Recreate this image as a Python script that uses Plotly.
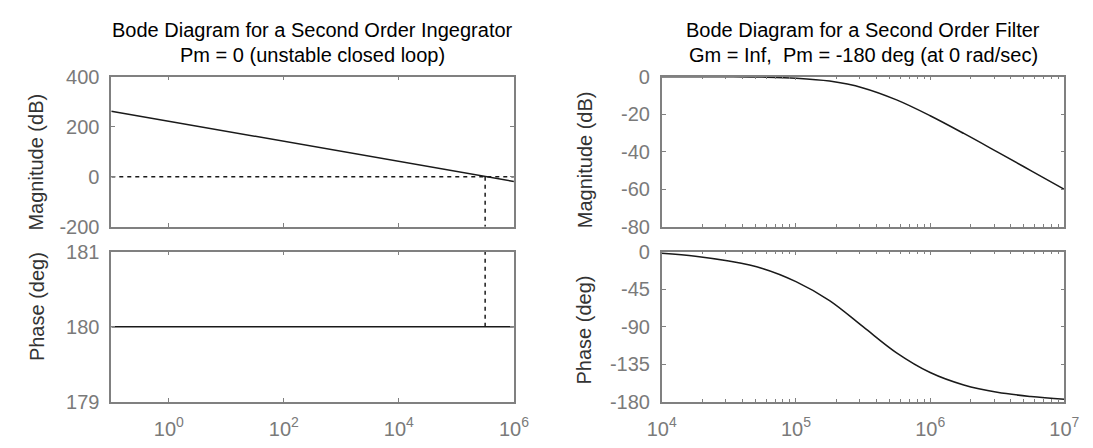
import plotly.graph_objects as go

# ---- Second order integrator (open loop) ----
int_freq = [1e-1, 1e0, 1e1, 1e2, 1e3, 1e4, 1e5, 1e6]           # rad/sec
int_mag = [262, 222, 181, 141, 100, 60, 20, -19]                 # dB
int_phase = [180, 180, 180, 180, 180, 180, 180, 180]             # deg
crossover_freq = 3.16e5                                          # rad/sec, 0 dB crossing

# ---- Second order filter ----
filt_freq = [1.0e4, 1.78e4, 3.16e4, 5.62e4, 1.0e5, 1.78e5, 3.16e5,
             5.62e5, 1.0e6, 1.78e6, 3.16e6, 5.62e6, 1.0e7]
filt_mag = [-0.01, -0.03, -0.09, -0.27, -0.83, -2.39, -6.02,
            -12.39, -20.83, -30.27, -40.09, -50.03, -60.0]
filt_phase = [-2.0, -5.5, -11.4, -20.2, -36.0, -58.7, -90.0,
              -121.3, -144.9, -159.8, -168.6, -173.6, -176.8]

# ---- tick labels ----
int_xticks = [1e0, 1e2, 1e4, 1e6]
int_xticktext = ["10<sup>0</sup>", "10<sup>2</sup>", "10<sup>4</sup>", "10<sup>6</sup>"]
filt_xticks = [1e4, 1e5, 1e6, 1e7]
filt_xticktext = ["10<sup>4</sup>", "10<sup>5</sup>", "10<sup>6</sup>", "10<sup>7</sup>"]
int_mag_ticks = [-200, 0, 200, 400]
int_phase_ticks = [179, 180, 181]
filt_mag_ticks = [-80, -60, -40, -20, 0]
filt_phase_ticks = [-180, -135, -90, -45, 0]
filt_minor = [m * 10 ** e for e in (4, 5, 6) for m in range(2, 10)]

W, H = 1093, 448
FONT = "Liberation Sans, Arial, sans-serif"
GRAY = "#808080"
TICKFONT = dict(family=FONT, size=20, color="#7a7a7a")
LINE = dict(color="#1a1a1a", width=1.5)
DASH = dict(color="#1a1a1a", width=1.5, dash="4px,4px")

# axes boxes in pixels (left, right) and (top, bottom)
LX = (99, 513)
RX = (665, 1079)
TOP_Y = (69, 227)
BOT_Y = (253, 411)


def xdom(px):
    return [px[0] / W, px[1] / W]


def ydom(py):
    return [1 - py[1] / H, 1 - py[0] / H]


def xaxis_style(dom, rng, tickvals, ticktext, labels, anchor, minor=None):
    d = dict(domain=xdom(dom), type="log", range=rng, anchor=anchor,
             showline=True, linecolor=GRAY, linewidth=1.6, mirror="ticks",
             ticks="inside", ticklen=4, tickcolor=GRAY, tickwidth=1.3,
             tickvals=tickvals, ticktext=ticktext, showticklabels=labels,
             tickfont=TICKFONT, ticklabelstandoff=8,
             showgrid=False, zeroline=False, fixedrange=True)
    if minor is not None:
        d["minor"] = dict(tickvals=minor, ticks="inside", ticklen=3,
                          tickcolor=GRAY, tickwidth=1.3, showgrid=False)
    return d


def yaxis_style(dom, rng, tickvals, anchor):
    return dict(domain=ydom(dom), range=rng, anchor=anchor,
                showline=True, linecolor=GRAY, linewidth=1.6, mirror="ticks",
                ticks="inside", ticklen=4, tickcolor=GRAY, tickwidth=1.3,
                tickvals=tickvals, ticktext=[str(v) for v in tickvals],
                tickfont=TICKFONT, ticklabelstandoff=6,
                showgrid=False, zeroline=False, fixedrange=True)


fig = go.Figure()

# integrator magnitude + phase
fig.add_trace(go.Scatter(x=int_freq, y=int_mag, mode="lines", line=LINE,
                         xaxis="x", yaxis="y"))
fig.add_trace(go.Scatter(x=[int_freq[0], int_freq[-1]], y=[0, 0], mode="lines",
                         line=DASH, xaxis="x", yaxis="y"))
fig.add_trace(go.Scatter(x=[crossover_freq, crossover_freq], y=[0, int_mag_ticks[0]],
                         mode="lines", line=DASH, xaxis="x", yaxis="y"))
fig.add_trace(go.Scatter(x=int_freq, y=int_phase, mode="lines", line=LINE,
                         xaxis="x2", yaxis="y2"))
fig.add_trace(go.Scatter(x=[crossover_freq, crossover_freq], y=[180, 181],
                         mode="lines", line=DASH, xaxis="x2", yaxis="y2"))

# filter magnitude + phase
fig.add_trace(go.Scatter(x=filt_freq, y=filt_mag, mode="lines",
                         line=dict(LINE, shape="spline"), xaxis="x3", yaxis="y3"))
fig.add_trace(go.Scatter(x=filt_freq, y=filt_phase, mode="lines",
                         line=dict(LINE, shape="spline"), xaxis="x4", yaxis="y4"))

fig.update_layout(
    width=W, height=H, margin=dict(l=0, r=0, t=0, b=0),
    paper_bgcolor="white", plot_bgcolor="white", showlegend=False,
    font=dict(family=FONT, size=20, color="black"),
    xaxis=xaxis_style(LX, [-1, 6], int_xticks, int_xticktext, False, "y"),
    yaxis=yaxis_style(TOP_Y, [-200, 400], int_mag_ticks, "x"),
    xaxis2=xaxis_style(LX, [-1, 6], int_xticks, int_xticktext, True, "y2"),
    yaxis2=yaxis_style(BOT_Y, [179, 181], int_phase_ticks, "x2"),
    xaxis3=xaxis_style(RX, [4, 7], filt_xticks, filt_xticktext, False, "y3", filt_minor),
    yaxis3=yaxis_style(TOP_Y, [-80, 0], filt_mag_ticks, "x3"),
    xaxis4=xaxis_style(RX, [4, 7], filt_xticks, filt_xticktext, True, "y4", filt_minor),
    yaxis4=yaxis_style(BOT_Y, [-180, 0], filt_phase_ticks, "x4"),
)

# two-line titles above each column
titles = [
    ((LX[0] + LX[1]) / 2, "Bode Diagram for a Second Order Ingegrator",
     "Pm = 0 (unstable closed loop)"),
    ((RX[0] + RX[1]) / 2, "Bode Diagram for a Second Order Filter",
     "Gm = Inf,  Pm = -180 deg (at 0 rad/sec)"),
]
for cx, line1, line2 in titles:
    for py, text in ((20, line1), (46, line2)):
        fig.add_annotation(x=cx / W, y=1 - py / H, xref="paper", yref="paper",
                           text=text, showarrow=False, xanchor="center", yanchor="middle",
                           font=dict(family=FONT, size=20, color="black"))

# y axis labels
ylabels = [
    (22, 159, "Magnitude (dB)"),
    (22, 311, "Phase (deg)"),
    (586, 156, "Magnitude (dB)"),
    (585, 335, "Phase (deg)"),
]
for px, py, text in ylabels:
    fig.add_annotation(x=px / W, y=1 - py / H, xref="paper", yref="paper",
                       text=text, showarrow=False, textangle=-90,
                       xanchor="center", yanchor="middle",
                       font=dict(family=FONT, size=20, color="#333333"))

fig.write_html("out.html")
